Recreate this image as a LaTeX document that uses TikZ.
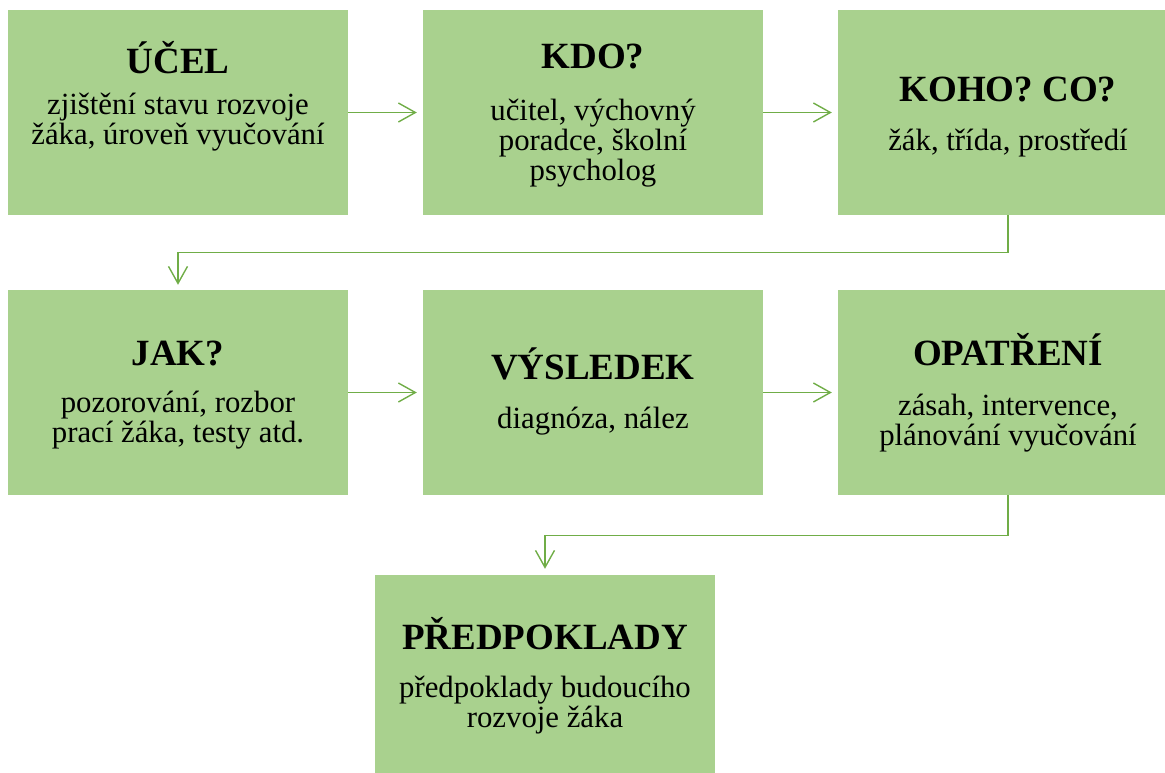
\documentclass[tikz,border=0pt]{standalone}
\usepackage{fontspec}
\setmainfont{Liberation Serif}
\usetikzlibrary{arrows.meta}
\definecolor{boxgreen}{HTML}{A9D18E}
\definecolor{linegreen}{HTML}{70AD47}
\begin{document}
\begin{tikzpicture}[x=1pt,y=-1pt,
  box/.style={fill=boxgreen, draw=none, minimum width=340pt, minimum height=205pt, inner sep=0pt},
  ttl/.style={font=\fontsize{37}{40}\selectfont\bfseries, anchor=base, inner sep=0pt},
  bodytxt/.style={font=\fontsize{30.8}{30}\selectfont, anchor=base, align=center, inner sep=0pt},
  conn/.style={draw=linegreen, line width=1.4pt, -{Straight Barb[length=17pt,width=19pt]}}]
\useasboundingbox (0,0) rectangle (1165,773);
\clip (0,0) rectangle (1165,773);
% boxes
\node[box] (b1) at (178,112.5) {};
\node[box] (b2) at (593,112.5) {};
\node[box] (b3) at (1008,112.5) {};
\node[box] (b4) at (178,392.5) {};
\node[box] (b5) at (593,392.5) {};
\node[box] (b6) at (1008,392.5) {};
\node[box] (b7) at (545,677.5) {};
% texts (multi-line body nodes are placed by the baseline of their last line)
\node[ttl] (t1) at (178,74) {ÚČEL};
\node[bodytxt] (s1) at (178,145) {zjištění stavu rozvoje\\žáka, úroveň vyučování};
\node[ttl] (t2) at (593,69) {KDO?};
\node[bodytxt] (s2) at (593,180) {učitel, výchovný\\poradce, školní\\psycholog};
\node[ttl] (t3) at (1008,102) {KOHO? CO?};
\node[bodytxt] (s3) at (1008,150) {žák, třída, prostředí};
\node[ttl] (t4) at (178,365) {JAK?};
\node[bodytxt] (s4) at (178,442) {pozorování, rozbor\\prací žáka, testy atd.};
\node[ttl] (t5) at (593,379) {VÝSLEDEK};
\node[bodytxt] (s5) at (593,428) {diagnóza, nález};
\node[ttl] (t6) at (1008,365) {OPATŘENÍ};
\node[bodytxt] (s6) at (1008,445) {zásah, intervence,\\plánování vyučování};
\node[ttl] (t7) at (545,649) {PŘEDPOKLADY};
\node[bodytxt] (s7) at (545,727) {předpoklady budoucího\\rozvoje žáka};
% connectors
\draw[conn] (b1.east) -- ([xshift=-6pt]b2.west);
\draw[conn] (b2.east) -- ([xshift=-6pt]b3.west);
\draw[conn] (b3.south) -- ++(0,37) -| ([yshift=5pt]b4.north);
\draw[conn] (b4.east) -- ([xshift=-6pt]b5.west);
\draw[conn] (b5.east) -- ([xshift=-6pt]b6.west);
\draw[conn] (b6.south) -- ++(0,40) -| ([yshift=6pt]b7.north);
\end{tikzpicture}
\end{document}
